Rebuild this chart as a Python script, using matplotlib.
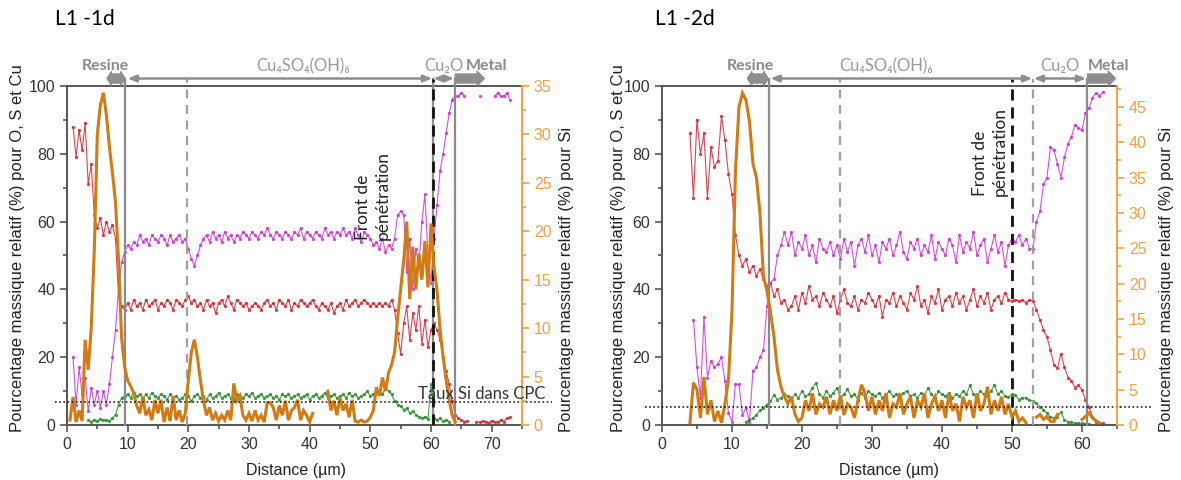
import numpy as np
import matplotlib
matplotlib.use("Agg")
import matplotlib.pyplot as plt
from matplotlib.ticker import MultipleLocator

nan = np.nan

# ---- L1 -1d : O (red), Cu (magenta), S (green) on left axis, Si (orange) on right axis ----
o_1d_x = (1.0, 73.0)
o_1d = [88, 79, 87, 81, 89, 71, 77, 62, 58, 61,
        56, 60, 57, 59, 55, 38, 35, 34, 36, 34,
        37, 35, 36, 34, 37, 35, 36, 37, 34, 36,
        35, 37, 36, 34, 37, 36, 35, 37, 38, 36,
        37, 35, 36, 34, 37, 35, 36, 33, 36, 37,
        35, 38, 36, 34, 37, 36, 35, 36, 34, 35,
        36, 35, 34, 36, 37, 35, 36, 34, 37, 36,
        35, 37, 34, 36, 35, 37, 36, 35, 36, 37,
        35, 34, 36, 35, 34, 36, 33, 35, 36, 34,
        37, 35, 36, 37, 35, 36, 37, 36, 35, 36,
        35, 36, 35, 36, 35, 37, 34, 27, 21, 30,
        35, 25, 33, 28, 35, 24, 31, 23, 28, 30,
        28, 25, 20, 16, 12, 7, 3, 2, 1.5, 1,
        1.2, nan, nan, 1, 0.8, 1.2, 1, 0.7, 1.3, 1,
        0.8, 1.5, 1, 2, 2.3]

cu_1d_x = (1.0, 73.0)
cu_1d = [20, 6, 17, 9, 14, 4, 11, 6, 10, 5,
         10, 6, 12, 20, 28, 40, 48, 51, 53, 52,
         54, 53, 56, 54, 55, 53, 56, 55, 54, 56,
         55, 53, 56, 54, 55, 56, 54, 55, 52, 49,
         47, 50, 53, 55, 56, 54, 57, 55, 56, 54,
         57, 55, 56, 54, 56, 55, 57, 56, 55, 57,
         56, 55, 57, 56, 58, 56, 55, 57, 56, 55,
         57, 56, 55, 57, 56, 58, 55, 57, 56, 55,
         57, 56, 55, 58, 56, 57, 55, 57, 56, 58,
         56, 57, 55, 58, 56, 54, 57, 56, 55, 53,
         54, 52, 55, 51, 53, 52, 55, 62, 63, 62,
         45, 55, 40, 52, 47, 60, 68, 50, 42, 55,
         65, 75, 80, 86, 92, 96, 97, 97, 98, 97,
         nan, nan, nan, nan, 97, nan, nan, nan, nan, 97,
         98, 97, 97, 98, 96]

s_1d_x = (3.5, 63.0)
s_1d = [1.5, 1, 1.5, 1.2, 1.8, 1.4, 1.5, 1.2, 2, 3,
        6, 8, 8.5, 9, 8, 9.5, 8.5, 9, 8, 9,
        8, 9.5, 8.5, 8, 9, 8.5, 7.5, 9, 8, 8.5,
        7.5, 8, 9, 8.5, 7, 8.5, 9, 8, 8.5, 7.5,
        9, 8, 8.5, 9.5, 8, 8.5, 9, 8, 7.5, 9,
        8.5, 8, 9, 8.5, 9.5, 8, 8.5, 9, 8, 8.5,
        9, 8, 8.5, 7.5, 9, 8.5, 9, 8, 8.5, 9,
        8, 8.5, 9, 7.5, 8.5, 9, 8, 8.5, 9.5, 8,
        8.5, 9, 8, 8.5, 9, 8, 9.5, 8.5, 9, 8,
        8.5, 9, 10, 8.5, 9, 9.5, 10, 9, 11, 10,
        9, 7, 6, 5.5, 4.5, 5, 3.5, 4, 3, 2.5,
        2, 2.5, 1.8, 12, 2, 1.5, 2, 1.2, 1.5, 1]

si_1d_x = (0.5, 64.0)
si_1d = [0.5, 2.9, 0.3, 1.5, 0.4, 8.8, 5.7, 10, 18, 30,
         33, 34.3, 32, 28.7, 26, 23, 17, 9, 6, 4.6,
         4, 3.3, 2, 1.2, 2.9, 1, 1.6, 0.5, 2.6, 1.2,
         2.6, 0.3, 1.8, 0.4, 3, 0.5, 1.5, 0.3, 1.2, 4.6,
         7.5, 8.8, 7, 4.6, 2.5, 1, 1.8, 0.5, 1.2, 0.4,
         1, 0.5, 1.5, 0.5, 4.3, 2.5, 3, 1, 0.5, 1.2,
         0.4, 1.5, 0.5, 1, 0.3, 2.3, 2.3, 1.8, 0.5, 2,
         1, 2.5, 0.5, 1.5, 1.8, 2.6, 0.5, 1.5, 1, 0.3,
         1.2, nan, nan, nan, nan, 3.5, 1.5, 2.5, 1, 2.8,
         1.5, 2.2, 0.8, 2.6, 0.4, 0.3, 0.5, 0.3, 0.4, 0.8,
         1.5, 3.9, 3, 4.9, 3.5, 5.4, 6.2, 7.5, 11, 14,
         17, 21, 13, 18.4, 14, 17.7, 15, 19, 14.2, 20.8,
         16.3, 13.9, 9.8, 7, 4.6, 2.6, 1, 0.3]

# ---- L1 -2d ----
o_2d_x = (4.0, 63.0)
o_2d = [86, 67, 90, 80, 86, 67, 82, 76, 78, 91,
        84, 74, 68, 56, 50, 47, 49, 45, 47, 44,
        46, 43, 41, 42, 38, 40, 36, 37, 34, 35,
        38, 34, 39, 36, 41, 37, 38, 35, 39, 37,
        35, 38, 33, 37, 40, 36, 35, 38, 34, 37,
        36, 39, 37, 35, 38, 32, 37, 36, 39, 35,
        38, 36, 34, 39, 37, 41, 35, 37, 33, 38,
        36, 40, 34, 37, 38, 35, 39, 36, 38, 34,
        37, 40, 35, 38, 36, 39, 34, 37, 38, 36,
        39, 37, 36.5, 37, 36.5, 37, 36, 37, 36.5, 34,
        31, 28, 26, 22, 17.7, 16.8, 21, 17, 14, 13,
        11, 11.8, 10.3, 7.4, 5.3, 2.5, 0.8, 0.4, 0.5]

cu_2d_x = (4.5, 63.0)
cu_2d = [31, 17, 8, 32, 14, 19, 17, 18, 20, 13,
         3.5, 1, 12, 12, 3, 5, 1, 16, 17, 20,
         22, 35, 42, 43, 50, 53, 57, 53, 57, 50,
         54, 52, 56, 50, 53, 48, 55, 52, 51, 54,
         50, 53, 49, 55, 51, 54, 47, 53, 55, 51,
         56, 50, 53, 48, 54, 52, 55, 50, 53, 57,
         51, 49, 54, 52, 55, 50, 53, 51, 56, 49,
         54, 52, 50, 55, 53, 48, 56, 51, 54, 52,
         57, 50, 53, 55, 48, 52, 56, 51, 54, 47,
         53, 55, 54, 56, 53, 55, 52, 52, 60, 63,
         71, 73, 82, 81, 77, 73, 79, 83, 85, 88.5,
         87.6, 87, 92, 93.5, 96.5, 98, 97, 98.2]

s_2d_x = (12.0, 61.0)
s_2d = [1, 1.5, 2, 3, 4.4, 5, 6, 7, 8.8, 7.5,
        8, 9, 8.5, 7.5, 9, 8, 10, 8.5, 9, 11,
        12.4, 9, 8, 10, 8.5, 9.5, 11, 8, 9, 10.5,
        8.5, 9, 7.5, 9.5, 8, 10, 9, 8.5, 9.5, 8,
        9, 10, 8.5, 9, 8, 9.5, 10, 8.5, 9, 8,
        9.5, 8.5, 11, 9, 8, 10, 9, 8.5, 9.5, 8,
        9, 8.5, 10, 9, 11.8, 9, 8.5, 10, 9, 8.5,
        10, 11.8, 9, 10, 8.5, 8.3, 9, 8.8, 7.5, 8,
        8, 7.4, 7, 6.5, 5.3, 4.5, 3.5, 2.4, 2, 2.5,
        3.8, 1.5, 1, 0.8, 0.5, 0.6, 0.5, 0.4, 0.3]

si_2d_x = (4.0, 62.5)
si_2d = [0.3, 6, 5, 1, 6.8, 1.5, 3.5, 0.5, 2, 0.3,
         3, 6.4, 16, 36, 45, 47, 46, 43, 37, 35,
         30, 21, 19, 16, 12.5, 7.8, 5.4, 4, 3, 4,
         1.5, 0.5, 1, 3.5, 2, 4.5, 1.5, 3, 2.5, 4,
         1.5, 3.5, 2, 4.2, 1.4, 3, 2.5, 1, 3.5, 5.7,
         4.5, 2, 4, 1.5, 3.5, 2, 4.5, 1, 3, 2.5,
         4.5, 1.5, 3, 4, 1, 3.5, 2.5, 4.5, 1, 3,
         4, 2, 3.5, 1, 4.5, 2, 3, 0.5, 4, 2.5,
         3.5, 1, 4.5, 2, 3, 5.4, 1.5, 3.5, 2, 4,
         1.5, 3, 1.1, 2, 0.5, 1, 0.3, nan, nan, 1.1,
         1.5, 0.8, 1.2, 0.5, 0.5, 1.5, nan, nan, nan, nan,
         nan, nan, 0.8, 1.2, 1.7, 1, 0.6, 0.3]

# zone boundaries (x, style) and labelled zones (label, x0, x1, label_x, kind)
lines_1d = [(9.6, "solid"), (19.8, "dash"), (60.3, "solid"), (60.3, "black"), (63.9, "solid")]
zones_1d = [("Resine", 6.6, 9.6, 6.4, "fat2"),
            ("Cu₄SO₄(OH)₆", 10.0, 60.2, 39.0, "thin"),
            ("Cu₂O", 60.4, 63.8, 62.2, "thin"),
            ("Metal", 64.0, 68.8, 69.2, "fat1")]
lines_2d = [(15.3, "solid"), (25.4, "dash"), (50.0, "black"), (53.0, "dash"), (60.7, "solid")]
zones_2d = [("Resine", 12.2, 15.2, 12.6, "fat2"),
            ("Cu₄SO₄(OH)₆", 15.5, 52.9, 32.0, "thin"),
            ("Cu₂O", 53.1, 60.6, 56.9, "thin"),
            ("Metal", 60.8, 64.8, 63.8, "fat1")]

RED = "#d9222e"
MAG = "#cf2fd6"
GREEN = "#2b8a2b"
ORANGE = "#d37a12"
ORANGE_AX = "#f0a048"
GRAY = "#8e8e8e"
AXC = "#555555"

plt.rcParams["font.family"] = ["Liberation Sans", "DejaVu Sans"]
ANNOT = ["Lato", "DejaVu Sans"]


def xgrid(span, values):
    return np.linspace(span[0], span[1], len(values))


def draw_panel(ax, o, cu, s, si, si_top, xmax, lines, zones,
               front_xy, cpc_level, cpc_span, cpc_label):
    axr = ax.twinx()
    for vals, col in ((o, RED), (cu, MAG), (s, GREEN)):
        ax.plot(xgrid(*vals), vals[1], color=col, lw=0.8, alpha=0.85,
                marker="o", ms=2.4, mew=0, mfc=col)
    axr.plot(xgrid(*si), si[1], color=ORANGE, lw=2.2, solid_joinstyle="miter")

    ax.set_xlim(0, xmax)
    ax.set_ylim(0, 100)
    axr.set_ylim(0, si_top)

    # zone boundaries, drawn up to the arrow row
    for x, style in lines:
        if style == "solid":
            ax.axvline(x, ymax=1.022, color="#8a8a8a", lw=1.6, clip_on=False, zorder=3)
        elif style == "dash":
            ax.axvline(x, ymax=1.022, color="#a0a0a0", lw=1.6, dashes=(4, 3),
                       clip_on=False, zorder=3)
        else:
            ax.axvline(x, ymax=1.022, color="#111111", lw=2.0, dashes=(4, 2.5),
                       clip_on=False, zorder=3)

    # zone arrows on top
    tr = ax.get_xaxis_transform()
    ya, yl = 1.022, 1.058
    for label, x0, x1, lx, kind in zones:
        if kind == "thin":
            ax.annotate("", xy=(x1, ya), xytext=(x0, ya), xycoords=tr,
                        arrowprops=dict(arrowstyle="<|-|>,head_length=0.5,head_width=0.2",
                                        color=GRAY, lw=1.8, shrinkA=0, shrinkB=0))
            ax.text(lx, yl, label, transform=tr, ha="center", va="center",
                    color="#9a9a9a", fontsize=12, family=ANNOT)
        else:
            if kind == "fat2":
                xm = (x0 + x1) / 2
                pairs = ((xm, x1), (xm, x0))
                style = "simple,head_length=0.25,head_width=0.75,tail_width=0.5"
            else:
                pairs = ((x0, x1),)
                style = "simple,head_length=0.4,head_width=0.8,tail_width=0.5"
            for a, b in pairs:
                ax.annotate("", xy=(b, ya), xytext=(a, ya), xycoords=tr,
                            arrowprops=dict(arrowstyle=style, color=GRAY,
                                            mutation_scale=13, shrinkA=0, shrinkB=0))
            ax.text(lx, yl, label, transform=tr, ha="center", va="center",
                    color="#8a8a8a", fontsize=11.5, fontweight="bold", family=ANNOT)

    # Si level in the CPC
    axr.plot(cpc_span, [cpc_level, cpc_level], color="#222222", lw=1.2,
             ls=(0, (1, 1.5)), clip_on=False)
    if cpc_label is not None:
        axr.text(cpc_label[0], cpc_label[1], "Taux Si dans CPC", ha="left", va="center",
                 fontsize=12, color="#333333", family=ANNOT)

    ax.text(front_xy[0], front_xy[1], "Front de\npénétration", rotation=90,
            ha="center", va="bottom", multialignment="left", linespacing=1.3,
            fontsize=12.5, color="#222222", family=ANNOT)

    # axes styling
    ax.xaxis.set_major_locator(MultipleLocator(10))
    ax.xaxis.set_minor_locator(MultipleLocator(5))
    ax.yaxis.set_major_locator(MultipleLocator(20))
    ax.yaxis.set_minor_locator(MultipleLocator(10))
    axr.yaxis.set_major_locator(MultipleLocator(5))
    axr.yaxis.set_minor_locator(MultipleLocator(2.5))
    for sp in ("left", "bottom", "top"):
        ax.spines[sp].set_color(AXC)
        ax.spines[sp].set_linewidth(1.4)
    ax.spines["right"].set_visible(False)
    for sp in ("left", "bottom", "top"):
        axr.spines[sp].set_visible(False)
    axr.spines["right"].set_color(ORANGE_AX)
    axr.spines["right"].set_linewidth(1.4)
    ax.tick_params(which="both", direction="out", color=AXC, width=1.2,
                   labelsize=11.5, labelcolor="#333333", top=False)
    ax.tick_params(which="major", length=5)
    ax.tick_params(which="minor", length=3)
    axr.tick_params(which="both", direction="out", color=ORANGE_AX, width=1.2,
                    labelsize=11.5, labelcolor=ORANGE_AX)
    axr.tick_params(which="major", length=5)
    axr.tick_params(which="minor", length=3)
    return axr


fig = plt.figure(figsize=(11.81, 4.8), dpi=100)
ax1 = fig.add_axes([0.0567, 0.1146, 0.3853, 0.7063])
ax2 = fig.add_axes([0.5605, 0.1146, 0.3853, 0.7063])

draw_panel(ax1, (o_1d_x, o_1d), (cu_1d_x, cu_1d), (s_1d_x, s_1d), (si_1d_x, si_1d),
           35, 75, lines_1d, zones_1d, front_xy=(50.4, 54.5),
           cpc_level=2.4, cpc_span=[-2.0, 79.9], cpc_label=(57.8, 3.2))
draw_panel(ax2, (o_2d_x, o_2d), (cu_2d_x, cu_2d), (s_2d_x, s_2d), (si_2d_x, si_2d),
           48, 65, lines_2d, zones_2d, front_xy=(46.9, 67.5),
           cpc_level=2.5, cpc_span=[-2.4, 70.0], cpc_label=None)

# titles and axis titles
fig.text(55 / 1181, 1 - 19 / 480, "L1 -1d", fontsize=15, va="center", family=ANNOT)
fig.text(655 / 1181, 1 - 19 / 480, "L1 -2d", fontsize=15, va="center", family=ANNOT)
for xl, xr, xc in ((18, 567, 296), (618, 1167, 889)):
    fig.text(xl / 1181, 48 / 480, "Pourcentage massique relatif (%) pour O, S et Cu",
             rotation=90, ha="center", va="bottom", fontsize=12, color="#222222")
    fig.text(xr / 1181, 48 / 480, "Pourcentage massique relatif (%) pour Si",
             rotation=90, ha="center", va="bottom", fontsize=12, color="#222222")
    fig.text(xc / 1181, 1 - 471 / 480, "Distance (µm)", ha="center", va="center",
             fontsize=11.5, color="#222222")

fig.savefig("out.png", dpi=100)
